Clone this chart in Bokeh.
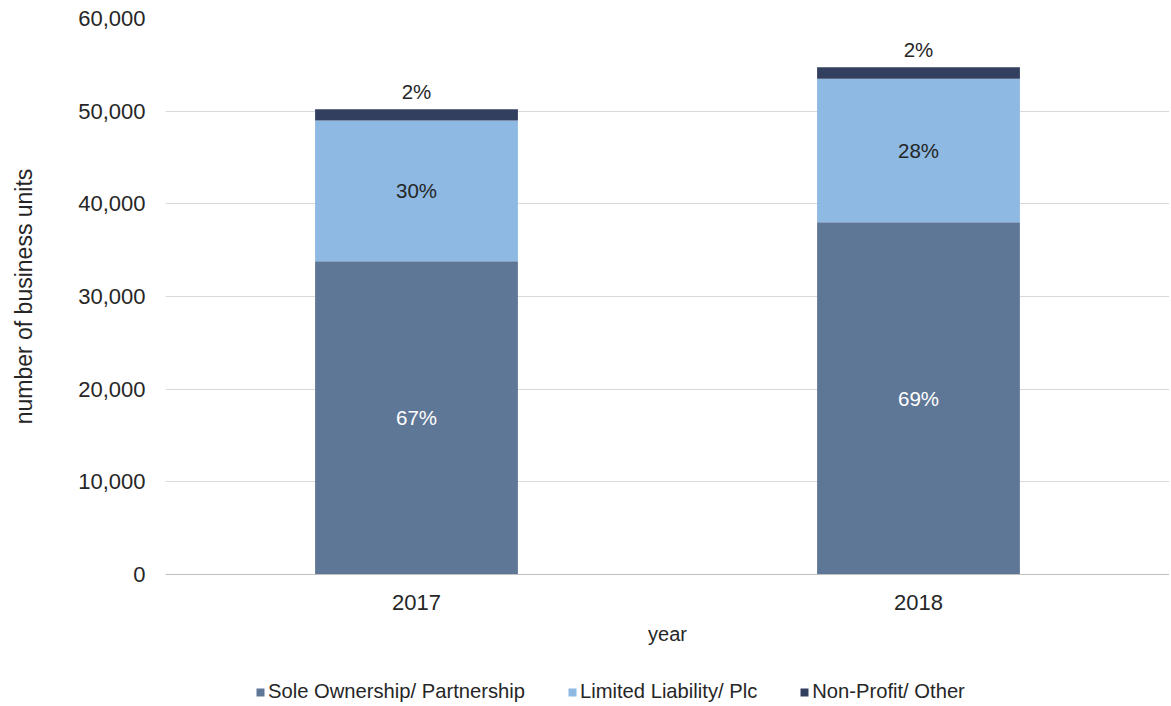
from bokeh.plotting import figure
from bokeh.layouts import column
from bokeh.models import ColumnDataSource, FactorRange, Legend, LegendItem, NumeralTickFormatter, FixedTicker, Range1d
from bokeh.core.properties import value
from bokeh.embed import file_html
from bokeh.resources import INLINE

years = ["2017", "2018"]
series = ["Sole Ownership/ Partnership", "Limited Liability/ Plc", "Non-Profit/ Other"]
sole = [33800, 38000]
limited = [15200, 15500]
nonprofit = [1200, 1250]
colors = ["#5f7797", "#8db9e2", "#323f5e"]
y_ticks = [0, 10000, 20000, 30000, 40000, 50000, 60000]

FONT = "Liberation Sans"

totals = [a + b + c for a, b, c in zip(sole, limited, nonprofit)]
src = ColumnDataSource(dict(year=years, sole=sole, limited=limited, nonprofit=nonprofit))

p = figure(x_range=FactorRange(*years), y_range=(0, 60000),
           width=1169, height=650,
           output_backend="svg", toolbar_location=None,
           min_border_left=165, min_border_right=0, min_border_top=18, min_border_bottom=76)

r = p.vbar_stack(["sole", "limited", "nonprofit"], x="year", width=0.404, color=colors,
                 source=src, line_color=None)

# percentage labels
lab_x, lab_y, lab_t, lab_c, lab_off = [], [], [], [], []
for i, yr in enumerate(years):
    t = totals[i]
    lab_x.append(yr); lab_y.append(sole[i] / 2); lab_t.append(f"{round(100*sole[i]/t)}%"); lab_c.append("#ffffff"); lab_off.append(0)
    lab_x.append(yr); lab_y.append(sole[i] + limited[i] / 2); lab_t.append(f"{round(100*limited[i]/t)}%"); lab_c.append("#262626"); lab_off.append(0)
    lab_x.append(yr); lab_y.append(t); lab_t.append(f"{round(100*nonprofit[i]/t)}%"); lab_c.append("#262626"); lab_off.append(-18)
lsrc = ColumnDataSource(dict(x=lab_x, y=lab_y, t=lab_t, c=lab_c, off=lab_off))
p.text(x="x", y="y", text="t", source=lsrc, text_color="c", y_offset="off",
       text_align="center", text_baseline="middle",
       text_font=value(FONT), text_font_size="20.5px")

p.yaxis.ticker = FixedTicker(ticks=y_ticks)
p.yaxis.formatter = NumeralTickFormatter(format="0,0")
p.yaxis.axis_line_color = None
p.yaxis.major_tick_line_color = None
p.yaxis.minor_tick_line_color = None
p.yaxis.major_label_standoff = 14
p.yaxis.axis_label = "number of business units"
p.yaxis.axis_label_standoff = 38

p.xaxis.axis_label = "year"
p.xaxis.axis_line_color = "#bfbfbf"
p.xaxis.major_tick_line_color = None
p.xaxis.minor_tick_line_color = None
p.xaxis.major_label_standoff = 14
p.xaxis.axis_label_standoff = 10

for ax in (p.xaxis, p.yaxis):
    ax.major_label_text_font = FONT
    ax.major_label_text_font_size = "22px"
    ax.major_label_text_color = "#262626"
    ax.axis_label_text_font = FONT
    ax.axis_label_text_font_style = "normal"
    ax.axis_label_text_color = "#262626"
p.yaxis.axis_label_text_font_size = "23px"
p.xaxis.axis_label_text_font_size = "20px"

p.xgrid.grid_line_color = None
p.ygrid.grid_line_color = "#d9d9d9"
p.ygrid.grid_line_width = 1
p.outline_line_color = None
p.x_range.range_padding = 0

# legend strip below the chart (its bars lie far outside its visible range)
p2 = figure(x_range=FactorRange(*years), y_range=Range1d(1e6, 2e6),
            width=1169, height=56, output_backend="svg", toolbar_location=None,
            x_axis_location=None, y_axis_location=None,
            min_border_left=0, min_border_right=0, min_border_top=0, min_border_bottom=0)
p2.xgrid.grid_line_color = None
p2.ygrid.grid_line_color = None
p2.outline_line_color = None
lr = p2.vbar_stack(["sole", "limited", "nonprofit"], x="year", width=0.404, color=colors,
                   source=src, line_color=None)
legend = Legend(items=[LegendItem(label=s, renderers=[rr]) for s, rr in zip(series, lr)],
                orientation="horizontal", location=(90, 3),
                label_text_font=FONT, label_text_font_size="20.2px", label_text_color="#262626",
                glyph_width=10, glyph_height=10, label_standoff=3, spacing=42,
                border_line_color=None, background_fill_alpha=0, padding=0, margin=0)
p2.add_layout(legend)

open("out.html", "w").write(file_html(column(p, p2, spacing=0), INLINE))
